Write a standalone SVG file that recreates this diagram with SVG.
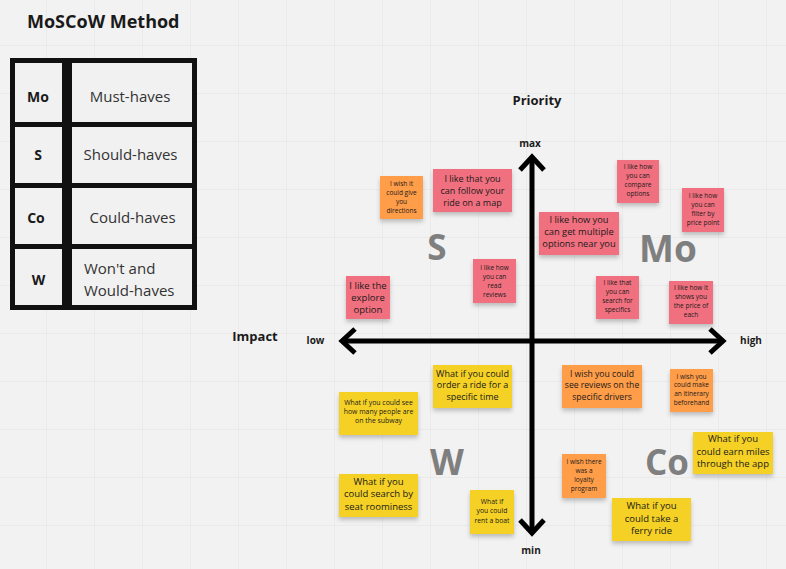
<svg xmlns="http://www.w3.org/2000/svg" width="786" height="569" viewBox="0 0 786 569">
<style>
text{font-family:"Open Sans","Liberation Sans",sans-serif;fill:#1a1a1a}
.t{text-anchor:middle}
.b{font-weight:bold}
.big{font-weight:bold;fill:#7f7f7f;text-anchor:middle}
.pink{fill:#f1707f}
.orange{fill:#ff9d48}
.yellow{fill:#f5d128}
.note rect{filter:url(#sh)}
.s{font-size:6.5px}
.m{font-size:9px}
.cell{fill:#f1f1f1}
.ax{stroke:#000;stroke-width:5;fill:none}
</style>
<defs>
<pattern id="grid" x="-1" y="-2" width="48" height="48" patternUnits="userSpaceOnUse">
<path d="M48 0V48M0 48H48" stroke="#e3e3e3" stroke-width="1" fill="none"/>
</pattern>
<filter id="sh" x="-20%" y="-20%" width="140%" height="160%">
<feDropShadow dx="0" dy="3" stdDeviation="2" flood-color="#000" flood-opacity="0.22"/>
</filter>
<marker id="chev" markerUnits="userSpaceOnUse" markerWidth="40" markerHeight="40" viewBox="-20 -20 40 40" refX="0" refY="0" orient="auto-start-reverse" overflow="visible">
<path d="M-13 -12L0 0L-13 12" stroke="#000" stroke-width="5" fill="none"/>
</marker>
</defs>
<rect width="786" height="569" fill="#f2f2f2"/>
<rect width="786" height="569" fill="url(#grid)"/>

<text id="title" x="27" y="28" class="b" style="font-size:18px">MoSCoW Method</text>

<g id="table">
<rect x="10" y="58" width="187" height="252" fill="#111"/>
<rect class="cell" x="15" y="63" width="47" height="59"/>
<rect class="cell" x="72" y="63" width="120" height="59"/>
<rect class="cell" x="15" y="127" width="47" height="56"/>
<rect class="cell" x="72" y="127" width="120" height="56"/>
<rect class="cell" x="15" y="188" width="47" height="56"/>
<rect class="cell" x="72" y="188" width="120" height="56"/>
<rect class="cell" x="15" y="249" width="47" height="56"/>
<rect class="cell" x="72" y="249" width="120" height="56"/>
<text class="t b" x="38" y="102" style="font-size:14px">Mo</text>
<text class="t" x="130" y="102" style="font-size:15px;fill:#333">Must-haves</text>
<text class="t b" x="38" y="160" style="font-size:14px">S</text>
<text class="t" x="130.5" y="160" style="font-size:15px;fill:#333">Should-haves</text>
<text class="t b" x="36" y="223" style="font-size:14px">Co</text>
<text class="t" x="132.5" y="223" style="font-size:15px;fill:#333">Could-haves</text>
<text class="t b" x="38.5" y="285" style="font-size:14px">W</text>
<text x="84" y="274" style="font-size:15px;fill:#333">Won't and</text>
<text x="84" y="296" style="font-size:15px;fill:#333">Would-haves</text>
</g>

<g id="connectors">
<line class="ax" x1="532" y1="533" x2="532" y2="157" marker-start="url(#chev)" marker-end="url(#chev)"/>
<line class="ax" x1="342" y1="341" x2="723" y2="341" marker-start="url(#chev)" marker-end="url(#chev)"/>
</g>

<g id="axis-labels">
<text class="t b" x="537" y="105" style="font-size:13px">Priority</text>
<text class="t b" x="530" y="147" style="font-size:10px">max</text>
<text class="t b" x="531" y="554" style="font-size:10px">min</text>
<text class="t b" x="255" y="341" style="font-size:13px">Impact</text>
<text class="t b" x="315.5" y="344" style="font-size:10px">low</text>
<text class="t b" x="751" y="344" style="font-size:10px">high</text>
</g>

<g id="quadrant-labels">
<text class="big" x="437" y="260" style="font-size:35px">S</text>
<text class="big" x="668" y="262" style="font-size:37px">Mo</text>
<text class="big" x="447" y="475" style="font-size:35px">W</text>
<text class="big" x="667" y="475" style="font-size:35px">Co</text>
</g>

<g id="n1" class="note"><rect class="orange" x="380" y="176" width="43" height="43"/>
<text class="t s" x="401.5"><tspan x="401.5" y="186.3">I wish it</tspan><tspan x="401.5" y="195.3">could give</tspan><tspan x="401.5" y="204.3">you</tspan><tspan x="401.5" y="213.3">directions</tspan></text></g>

<g id="n2" class="note"><rect class="pink" x="433" y="169" width="79" height="43"/>
<text class="t m" x="472.5"><tspan x="472.5" y="181.7">I like that you</tspan><tspan x="472.5" y="193.7">can follow your</tspan><tspan x="472.5" y="205.7">ride on a map</tspan></text></g>

<g id="n3" class="note"><rect class="pink" x="473" y="259" width="43" height="44"/>
<text class="t s" x="494.5"><tspan x="494.5" y="269.8">I like how</tspan><tspan x="494.5" y="278.8">you can</tspan><tspan x="494.5" y="287.8">read</tspan><tspan x="494.5" y="296.8">reviews</tspan></text></g>

<g id="n4" class="note"><rect class="pink" x="346" y="276" width="44" height="43"/>
<text class="t" style="font-size:9.5px" x="368"><tspan x="368" y="288.5">I like the</tspan><tspan x="368" y="300.5">explore</tspan><tspan x="368" y="312.5">option</tspan></text></g>

<g id="n5" class="note"><rect class="pink" x="617" y="160" width="42" height="43"/>
<text class="t s" x="638"><tspan x="638" y="168.8">I like how</tspan><tspan x="638" y="177.8">you can</tspan><tspan x="638" y="186.8">compare</tspan><tspan x="638" y="195.8">options</tspan></text></g>

<g id="n6" class="note"><rect class="pink" x="682" y="188" width="42" height="44"/>
<text class="t s" x="703"><tspan x="703" y="197.8">I like how</tspan><tspan x="703" y="207">you can</tspan><tspan x="703" y="216.2">filter by</tspan><tspan x="703" y="225.4">price point</tspan></text></g>

<g id="n7" class="note"><rect class="pink" x="539" y="212" width="80" height="43"/>
<text class="t" style="font-size:9.3px" x="579"><tspan x="579" y="223.3">I like how you</tspan><tspan x="579" y="235.3">can get multiple</tspan><tspan x="579" y="247.3">options near you</tspan></text></g>

<g id="n8" class="note"><rect class="pink" x="596" y="276" width="43" height="43"/>
<text class="t s" x="617.5"><tspan x="617.5" y="285">I like that</tspan><tspan x="617.5" y="294">you can</tspan><tspan x="617.5" y="303">search for</tspan><tspan x="617.5" y="312">specifics</tspan></text></g>

<g id="n9" class="note"><rect class="pink" x="669" y="281" width="44" height="43"/>
<text class="t s" x="691"><tspan x="691" y="289.6">I like how it</tspan><tspan x="691" y="298.9">shows you</tspan><tspan x="691" y="307.9">the price of</tspan><tspan x="691" y="317.2">each</tspan></text></g>

<g id="n10" class="note"><rect class="yellow" x="433" y="365" width="79" height="43"/>
<text class="t m" x="472.5"><tspan x="472.5" y="376.5">What if you could</tspan><tspan x="472.5" y="388.2">order a ride for a</tspan><tspan x="472.5" y="399.9">specific time</tspan></text></g>

<g id="n11" class="note"><rect class="yellow" x="339" y="392" width="79" height="43"/>
<text class="t" style="font-size:6.9px" x="378.5"><tspan x="378.5" y="405.1">What if you could see</tspan><tspan x="378.5" y="414.1">how many people are</tspan><tspan x="378.5" y="423.4">on the subway</tspan></text></g>

<g id="n12" class="note"><rect class="yellow" x="339" y="474" width="79" height="43"/>
<text class="t" style="font-size:9.5px" x="378.5"><tspan x="378.5" y="485">What if you</tspan><tspan x="378.5" y="497.3">could search by</tspan><tspan x="378.5" y="510">seat roominess</tspan></text></g>

<g id="n13" class="note"><rect class="yellow" x="470" y="490" width="44" height="44"/>
<text class="t" style="font-size:6.8px" x="492"><tspan x="492" y="504">What if</tspan><tspan x="492" y="513.4">you could</tspan><tspan x="492" y="523">rent a boat</tspan></text></g>

<g id="n14" class="note"><rect class="orange" x="562" y="365" width="80" height="43"/>
<text class="t" style="font-size:8.6px" x="602"><tspan x="602" y="376.6">I wish you could</tspan><tspan x="602" y="388.1">see reviews on the</tspan><tspan x="602" y="399.6">specific drivers</tspan></text></g>

<g id="n15" class="note"><rect class="orange" x="670" y="369" width="43" height="43"/>
<text class="t s" x="691.5"><tspan x="691.5" y="378.6">I wish you</tspan><tspan x="691.5" y="387.3">could make</tspan><tspan x="691.5" y="396.3">an itinerary</tspan><tspan x="691.5" y="405.3">beforehand</tspan></text></g>

<g id="n16" class="note"><rect class="yellow" x="693" y="432" width="80" height="42"/>
<text class="t" style="font-size:9.5px" x="733"><tspan x="733" y="442.3">What if you</tspan><tspan x="733" y="455">could earn miles</tspan><tspan x="733" y="467.3">through the app</tspan></text></g>

<g id="n17" class="note"><rect class="orange" x="562" y="454" width="44" height="44"/>
<text class="t s" x="584"><tspan x="584" y="464">I wish there</tspan><tspan x="584" y="473">was a</tspan><tspan x="584" y="482">loyalty</tspan><tspan x="584" y="491">program</tspan></text></g>

<g id="n18" class="note"><rect class="yellow" x="612" y="498" width="79" height="43"/>
<text class="t" style="font-size:9.5px" x="651.5"><tspan x="651.5" y="509.3">What if you</tspan><tspan x="651.5" y="521.6">could take a</tspan><tspan x="651.5" y="534">ferry ride</tspan></text></g>
</svg>
